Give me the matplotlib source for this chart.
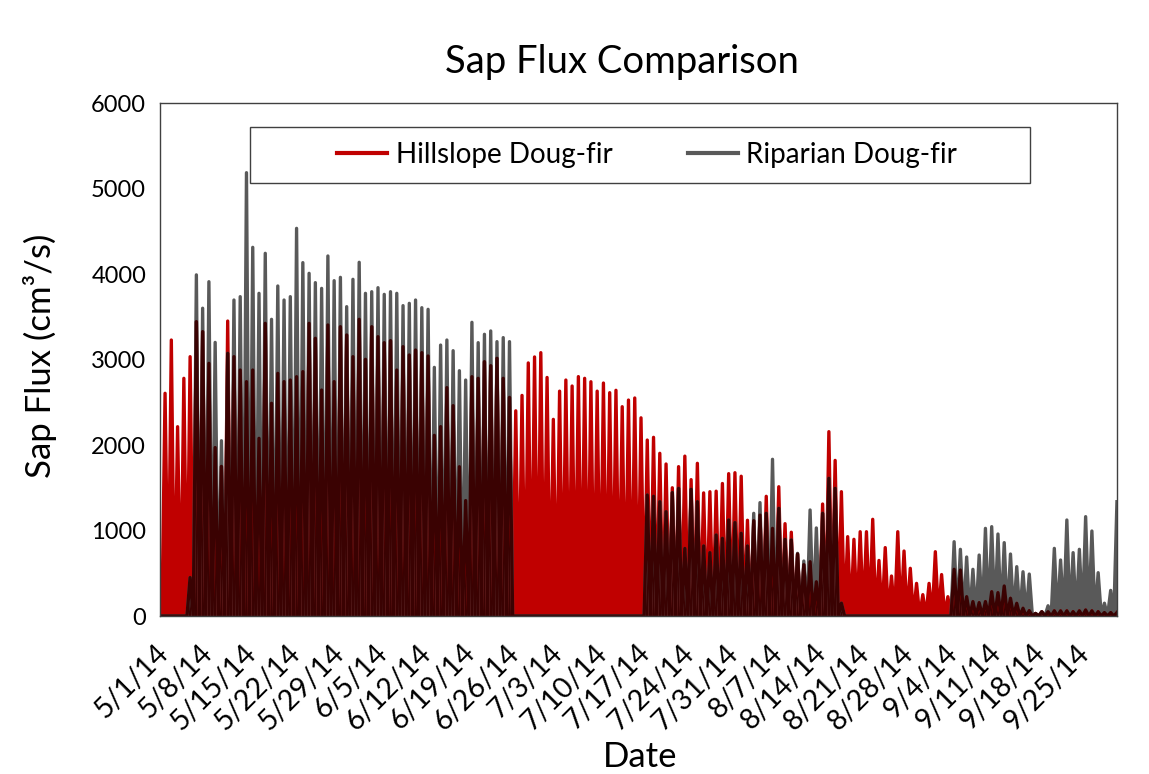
import datetime as dt

import matplotlib
matplotlib.use("Agg")
import matplotlib.dates as mdates
import matplotlib.pyplot as plt
import matplotlib.transforms as mtransforms
import numpy as np
from matplotlib.patches import Rectangle

plt.rcParams["font.family"] = ["Lato", "DejaVu Sans"]

# daily peak sap flux (cm3/s), one value per day starting 5/1/14
hillslope_peak = [
    2605, 3228, 2214, 2780, 3033, 3443, 3326, 2955, 1970, 1750,
    3450, 3033, 2877, 2741, 2877, 2078, 3423, 2488, 2838, 2741,
    2760, 2799, 2858, 3423, 3248, 2643, 3404, 2741, 3384, 3287,
    3033, 3470, 3002, 3384, 3267, 3197, 3221, 2877, 3150, 3053,
    3111, 3080, 3041, 2113, 2215, 2671, 2460, 1746, 1350, 2799,
    2780, 2975, 2928, 3014, 2780, 2557, 2400, 2580, 2960, 3030,
    3080, 2790, 2300, 2630, 2760, 2690, 2800, 2780, 2740, 2630,
    2725, 2612, 2640, 2448, 2526, 2550, 2318, 2058, 2090, 1903,
    1778, 1500, 1747, 1870, 1595, 1786, 1440, 1454, 1460, 1550,
    1665, 1676, 1635, 1120, 1115, 1180, 1400, 1025, 1512, 1080,
    980, 725, 600, 635, 400, 1310, 2156, 1820, 1454, 928,
    897, 986, 986, 1131, 650, 800, 468, 986, 760, 558,
    382, 250, 382, 752, 485, 226, 546, 538, 226, 168,
    156, 168, 284, 273, 351, 207, 148, 90, 62, 30,
    50, 50, 60, 60, 60, 50, 60, 70, 60, 50,
    40, 40, 40,
]
riparian_peak = [
    0, 0, 0, 0, 450, 3990, 3600, 3910, 3200, 2050,
    3072, 3696, 3735, 5185, 4312, 3774, 4242, 3470, 3860, 3696,
    3735, 4534, 4133, 4008, 3899, 3832, 4211, 3922, 3961, 3618,
    3938, 4137, 3774, 3793, 3840, 3762, 3793, 3774, 3630, 3657,
    3696, 3606, 3587, 2908, 3169, 3228, 3103, 2869, 2760, 3435,
    3197, 3295, 3334, 3209, 3256, 3209, 0, 0, 0, 0,
    0, 0, 0, 0, 0, 0, 0, 0, 0, 0,
    0, 0, 0, 0, 0, 0, 0, 1415, 1400, 1337,
    1220, 1443, 1493, 790, 1482, 1337, 819, 741, 947, 908,
    1123, 1092, 967, 819, 1201, 1326, 1201, 1833, 1259, 897,
    889, 733, 643, 1240, 1030, 1201, 1610, 1493, 150, 0,
    0, 0, 0, 0, 0, 0, 0, 0, 0, 0,
    0, 0, 0, 0, 0, 0, 869, 780, 690, 546,
    713, 1025, 1045, 959, 858, 725, 577, 518, 491, 30,
    50, 120, 791, 655, 1123, 741, 780, 1162, 994, 507,
    150, 300, 1337,
]

start = dt.datetime(2014, 5, 1)
red = "#C00000"
grey = "#595959"
overlap = "#3A0202"


def diurnal(peaks):
    # night low then afternoon peak for every day
    n = len(peaks)
    t = np.empty(2 * n + 1)
    v = np.zeros(2 * n + 1)
    t[0] = 0.0
    t[1::2] = np.arange(n) + 0.3
    t[2::2] = np.arange(n) + 0.8
    v[2::2] = peaks
    return mdates.date2num(start) + t, v


x, hill = diurnal(hillslope_peak)
_, ripa = diurnal(riparian_peak)
both = np.minimum(hill, ripa)

fig = plt.figure(figsize=(11.49, 7.74), dpi=100)
ax = fig.add_axes([0.1393, 0.2041, 0.8328, 0.6628])

lw = 2.4
for y, c in [(hill, red), (ripa, grey), (both, overlap)]:
    ax.fill_between(x, 0, y, color=c, lw=0)
    ax.plot(x, y, color=c, lw=lw, solid_joinstyle="round")

ax.set_xlim(x[0], x[-1])
ax.set_ylim(0, 6000)
ax.set_yticks(np.arange(0, 6001, 1000))
ax.tick_params(axis="y", length=0, pad=10, labelsize=17)
ax.tick_params(axis="x", length=0, pad=17, labelsize=20.5)

ax.xaxis.set_major_locator(mdates.WeekdayLocator(byweekday=mdates.TH))
ax.xaxis.set_major_formatter(
    plt.FuncFormatter(lambda v, pos: "{0.month}/{0.day}/{0:%y}".format(mdates.num2date(v)))
)
shift = mtransforms.ScaledTranslation(-5 / 100, 0, fig.dpi_scale_trans)
for lab in ax.get_xticklabels():
    lab.set_rotation(45)
    lab.set_ha("right")
    lab.set_va("top")
    lab.set_rotation_mode("anchor")
    lab.set_transform(lab.get_transform() + shift)

for s in ax.spines.values():
    s.set_color("#404040")
    s.set_linewidth(1.0)

# legend inside its own framed box
ax.add_patch(Rectangle((0.094, 0.844), 0.815, 0.109, transform=ax.transAxes,
                       facecolor="white", edgecolor="#404040", lw=1.0, zorder=5, clip_on=False))
h1, = ax.plot([], [], color=red, lw=3, label="Hillslope Doug-fir")
h2, = ax.plot([], [], color=grey, lw=3, label="Riparian Doug-fir")
leg = ax.legend(handles=[h1, h2], loc="center", bbox_to_anchor=(0.509, 0.899), ncol=2,
                frameon=False, fontsize=20, handlelength=1.8, handletextpad=0.3,
                columnspacing=2.7)
leg.set_zorder(6)

fig.text(0.541, 0.92, "Sap Flux Comparison", ha="center", va="center", fontsize=27.5)
fig.text(0.557, 0.022, "Date", ha="center", va="center", fontsize=25)
fig.text(0.035, 0.54, "Sap Flux (cm³/s)", ha="center", va="center", rotation=90, fontsize=25)

fig.savefig("out.png", dpi=100)
